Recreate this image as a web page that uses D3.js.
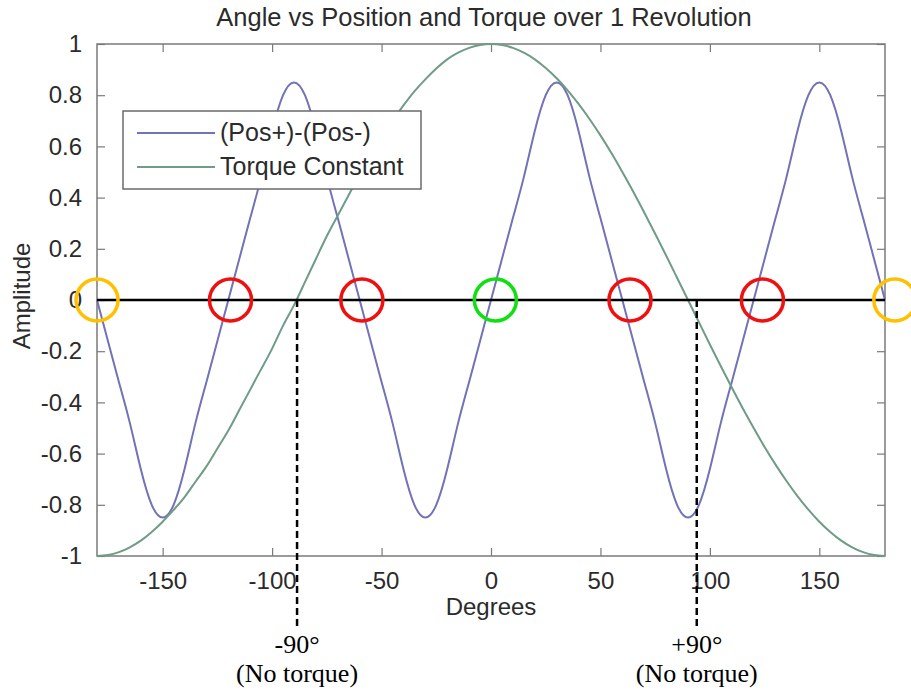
<!DOCTYPE html>
<html>
<head>
<meta charset="utf-8">
<script src="https://cdn.jsdelivr.net/npm/d3@7"></script>
<style>
    body { margin: 0; background: #fff; }
</style>
</head>
<body>
<div id="chart"></div>
<script>
const angles = [-180, -175, -170, -165, -160, -155, -150, -145, -140, -135, -130, -125,
    -120, -115, -110, -105, -100, -95, -90, -85, -80, -75, -70, -65,
    -60, -55, -50, -45, -40, -35, -30, -25, -20, -15, -10, -5,
    0, 5, 10, 15, 20, 25, 30, 35, 40, 45, 50, 55,
    60, 65, 70, 75, 80, 85, 90, 95, 100, 105, 110, 115,
    120, 125, 130, 135, 140, 145, 150, 155, 160, 165, 170, 175, 180];

// (Pos+)-(Pos-)
const posDiff = [0, -0.16, -0.32, -0.48, -0.66, -0.80, -0.85, -0.80, -0.66, -0.48, -0.32, -0.16,
    0, 0.16, 0.32, 0.48, 0.66, 0.80, 0.85, 0.80, 0.66, 0.48, 0.32, 0.16,
    0, -0.16, -0.32, -0.48, -0.66, -0.80, -0.85, -0.80, -0.66, -0.48, -0.32, -0.16,
    0, 0.16, 0.32, 0.48, 0.66, 0.80, 0.85, 0.80, 0.66, 0.48, 0.32, 0.16,
    0, -0.16, -0.32, -0.48, -0.66, -0.80, -0.85, -0.80, -0.66, -0.48, -0.32, -0.16,
    0, 0.16, 0.32, 0.48, 0.66, 0.80, 0.85, 0.80, 0.66, 0.48, 0.32, 0.16, 0];

// Torque Constant
const torque = [-1, -0.996, -0.985, -0.966, -0.94, -0.906, -0.866, -0.82, -0.77, -0.71, -0.65, -0.58,
    -0.51, -0.43, -0.35, -0.27, -0.19, -0.10, -0.02, 0.07, 0.16, 0.25, 0.33, 0.41,
    0.49, 0.565, 0.635, 0.70, 0.76, 0.815, 0.862, 0.904, 0.94, 0.966, 0.985, 0.996,
    1, 0.996, 0.985, 0.966, 0.94, 0.906, 0.866, 0.819, 0.766, 0.707, 0.643, 0.574,
    0.5, 0.423, 0.342, 0.259, 0.174, 0.087, 0, -0.087, -0.174, -0.259, -0.342, -0.423,
    -0.5, -0.574, -0.643, -0.707, -0.766, -0.819, -0.866, -0.906, -0.94, -0.966, -0.985, -0.996, -1];

const xTicks = [-150, -100, -50, 0, 50, 100, 150];
const yTicks = [-1, -0.8, -0.6, -0.4, -0.2, 0, 0.2, 0.4, 0.6, 0.8, 1];

// marker circles along the zero line
const circleAngles = [-180, -119, -59, 2, 63.5, 124, 184.5];
const circleColors = ['#ffc000', '#f01010', '#f01010', '#10e010', '#f01010', '#f01010', '#ffc000'];

// "no torque" markers
const noTorqueAngles = [-88.6, 94];
const noTorqueLabels = ['-90°', '+90°'];

const seriesNames = ['(Pos+)-(Pos-)', 'Torque Constant'];
const seriesColors = ['#7272b6', '#6f9c86'];

const attrs = {
    svgWidth: 911,
    svgHeight: 692,
    marginLeft: 97,
    marginTop: 44,
    chartWidth: 788,
    chartHeight: 512,
    font: "'Liberation Sans', Arial, sans-serif",
    serif: "'Liberation Serif', 'Times New Roman', serif",
    axisColor: '#7a7a7a',
    textColor: '#2b2b2b'
};

const svg = d3.select('#chart').append('svg')
    .attr('width', attrs.svgWidth)
    .attr('height', attrs.svgHeight)
    .attr('font-family', attrs.font);

const chart = svg.append('g')
    .attr('transform', `translate(${attrs.marginLeft},${attrs.marginTop})`);

const x = d3.scaleLinear().domain([-180, 180]).range([0, attrs.chartWidth]);
const y = d3.scaleLinear().domain([-1, 1]).range([attrs.chartHeight, 0]);

// title
svg.append('text')
    .attr('x', 484)
    .attr('y', 26)
    .attr('text-anchor', 'middle')
    .attr('font-size', 25.5)
    .attr('fill', attrs.textColor)
    .text('Angle vs Position and Torque over 1 Revolution');

// axes, ticks pointing inward like matlab
const tickLen = 8;
const plainNum = d => String(d); // keep the hyphen minus
const styleAxis = (g) => {
    g.select('.domain').remove();
    g.selectAll('line').attr('stroke', attrs.axisColor).attr('stroke-width', 1.2);
    g.selectAll('text').attr('fill', attrs.textColor).attr('font-size', 24).attr('font-family', attrs.font);
};

chart.append('g')
    .attr('transform', `translate(0,${attrs.chartHeight})`)
    .call(d3.axisBottom(x).tickValues(xTicks).tickSize(-tickLen).tickPadding(tickLen + 8).tickFormat(plainNum))
    .call(styleAxis);

chart.append('g')
    .call(d3.axisTop(x).tickValues(xTicks).tickSize(-tickLen).tickFormat(''))
    .call(styleAxis);

chart.append('g')
    .call(d3.axisLeft(y).tickValues(yTicks).tickSize(-tickLen).tickPadding(tickLen + 7).tickFormat(plainNum))
    .call(styleAxis);

chart.append('g')
    .attr('transform', `translate(${attrs.chartWidth},0)`)
    .call(d3.axisRight(y).tickValues(yTicks).tickSize(-tickLen).tickFormat(''))
    .call(styleAxis);

chart.append('rect')
    .attr('width', attrs.chartWidth)
    .attr('height', attrs.chartHeight)
    .attr('fill', 'none')
    .attr('stroke', attrs.axisColor)
    .attr('stroke-width', 1.5);

// axis labels
svg.append('text')
    .attr('x', attrs.marginLeft + attrs.chartWidth / 2)
    .attr('y', 615)
    .attr('text-anchor', 'middle')
    .attr('font-size', 24)
    .attr('fill', attrs.textColor)
    .text('Degrees');

svg.append('text')
    .attr('transform', `translate(30,${attrs.marginTop + y(0) - 4}) rotate(-90)`)
    .attr('text-anchor', 'middle')
    .attr('font-size', 24)
    .attr('fill', attrs.textColor)
    .text('Amplitude');

// curves
const seriesData = [posDiff, torque];
const line = d3.line()
    .x((d, i) => x(angles[i]))
    .y(d => y(d))
    .curve(d3.curveNatural);

chart.selectAll('path.series')
    .data(seriesData)
    .join('path')
    .attr('class', 'series')
    .attr('d', line)
    .attr('fill', 'none')
    .attr('stroke', (d, i) => seriesColors[i])
    .attr('stroke-width', 2);

// zero line
chart.append('line')
    .attr('x1', x(-180))
    .attr('x2', x(180))
    .attr('y1', y(0))
    .attr('y2', y(0))
    .attr('stroke', '#000')
    .attr('stroke-width', 2.5);

// dashed no-torque markers, running below the axis
const annotBottom = 583;
chart.selectAll('line.no-torque')
    .data(noTorqueAngles)
    .join('line')
    .attr('class', 'no-torque')
    .attr('x1', d => x(d))
    .attr('x2', d => x(d))
    .attr('y1', y(0))
    .attr('y2', annotBottom)
    .attr('stroke', '#000')
    .attr('stroke-width', 2.5)
    .attr('stroke-dasharray', '7,4');

chart.selectAll('text.no-torque-deg')
    .data(noTorqueAngles)
    .join('text')
    .attr('class', 'no-torque-deg')
    .attr('x', d => x(d))
    .attr('y', 609)
    .attr('text-anchor', 'middle')
    .attr('font-family', attrs.serif)
    .attr('font-size', 26)
    .attr('fill', '#000')
    .text((d, i) => noTorqueLabels[i]);

chart.selectAll('text.no-torque-note')
    .data(noTorqueAngles)
    .join('text')
    .attr('class', 'no-torque-note')
    .attr('x', d => x(d))
    .attr('y', 638)
    .attr('text-anchor', 'middle')
    .attr('font-family', attrs.serif)
    .attr('font-size', 26)
    .attr('fill', '#000')
    .text('(No torque)');

// circles on the crossings
chart.selectAll('circle.marker')
    .data(circleAngles)
    .join('circle')
    .attr('class', 'marker')
    .attr('cx', d => x(d))
    .attr('cy', y(0))
    .attr('r', 21)
    .attr('fill', 'none')
    .attr('stroke', (d, i) => circleColors[i])
    .attr('stroke-width', 3.5);

// legend
const legend = chart.append('g').attr('transform', 'translate(26,67)');
legend.append('rect')
    .attr('width', 298)
    .attr('height', 78)
    .attr('fill', '#fff')
    .attr('stroke', '#6a6a6a')
    .attr('stroke-width', 1.5);

const items = legend.selectAll('g.item')
    .data(seriesNames)
    .join('g')
    .attr('class', 'item')
    .attr('transform', (d, i) => `translate(0,${22 + i * 34})`);

items.append('line')
    .attr('x1', 14)
    .attr('x2', 92)
    .attr('stroke', (d, i) => seriesColors[i])
    .attr('stroke-width', 2);

items.append('text')
    .attr('x', 97)
    .attr('y', 8)
    .attr('font-size', 25)
    .attr('fill', attrs.textColor)
    .text(d => d);
</script>
</body>
</html>
